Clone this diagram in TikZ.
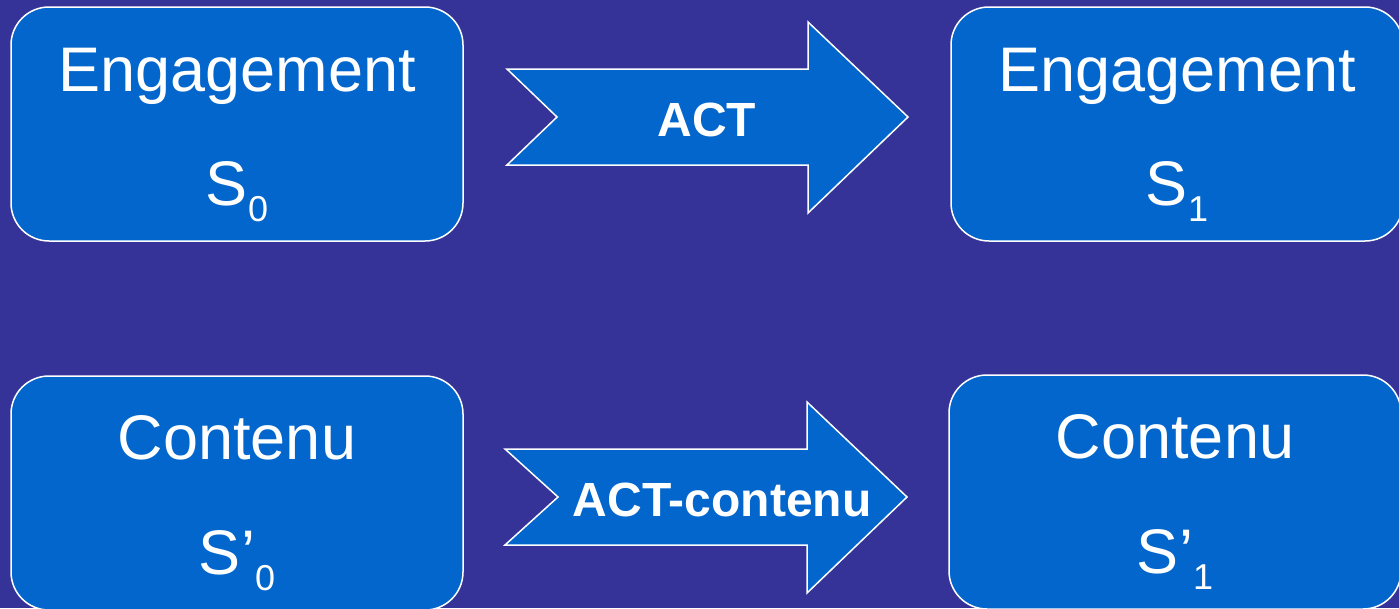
\documentclass[tikz,border=0pt]{standalone}
\usepackage{fontspec}
\setmainfont{Liberation Sans}
\usetikzlibrary{positioning}
\definecolor{slidebg}{RGB}{53,51,151}
\definecolor{boxblue}{RGB}{2,102,204}
\newcommand{\indice}[1]{\raisebox{-16pt}{\fontsize{36}{36}\selectfont #1}}

\begin{document}
\begin{tikzpicture}[x=1pt,y=-1pt,line join=miter]
\tikzstyle{etat}=[draw=white,line width=1.5pt,fill=boxblue,rounded corners=38pt,
    minimum width=452pt,minimum height=234pt,inner sep=0pt]
\tikzstyle{titre}=[text=white,font=\fontsize{63}{70}\selectfont,anchor=base,inner sep=0pt]
\tikzstyle{fleche}=[draw=white,line width=1.5pt,fill=boxblue]
\tikzstyle{action}=[text=white,font=\fontsize{48}{54}\selectfont\bfseries,anchor=base,inner sep=0pt]

\fill[slidebg] (0,0) rectangle (1399,608);
\useasboundingbox (0,0) rectangle (1399,608);

\node[etat] (E0) at (237,124) {};
\node[etat] (E1) at (1177,124) {};
\node[etat] (C0) at (237,493) {};
\node[etat] (C1) at (1175,492) {};

\node[titre] (E0t) at ([yshift=-85pt]E0.north) {Engagement};
\node[titre] (E0s) at ([yshift=-199pt]E0.north) {S\indice{0}};
\node[titre] (E1t) at ([yshift=-85pt]E1.north) {Engagement};
\node[titre] (E1s) at ([yshift=-199pt]E1.north) {S\indice{1}};
\node[titre] (C0t) at ([yshift=-84pt]C0.north) {Contenu};
\node[titre] (C0s) at ([yshift=-199pt]C0.north) {S’\indice{0}};
\node[titre] (C1t) at ([yshift=-84pt]C1.north) {Contenu};
\node[titre] (C1s) at ([yshift=-199pt]C1.north) {S’\indice{1}};

% fleches
\coordinate (A0) at (507,117);
\draw[fleche] (A0) ++(0,-48) -- ++(301,0) -- ++(0,-47) -- ++(100,95)
    -- ++(-100,96) -- ++(0,-48) -- ++(-301,0) -- ++(50,-48) -- cycle;
\node[action] (act) at (707,136) {ACT};

\coordinate (A1) at (505,497);
\draw[fleche] (A1) ++(0,-48) -- ++(302,0) -- ++(0,-47) -- ++(100,95)
    -- ++(-100,96) -- ++(0,-48) -- ++(-302,0) -- ++(53,-48) -- cycle;
\node[action] (actc) at (722,516) {ACT-contenu};
\end{tikzpicture}
\end{document}
